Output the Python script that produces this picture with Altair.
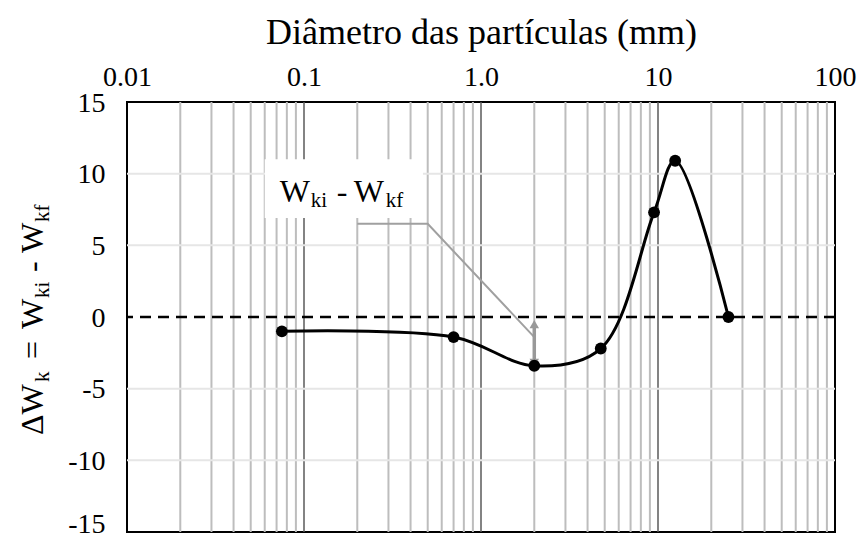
import altair as alt
import pandas as pd

# ---- data ----
diam = [0.075, 0.7, 2.0, 4.75, 9.5, 12.5, 25.0]
dwk = [-1.0, -1.4, -3.4, -2.2, 7.3, 10.9, 0.0]

x_ticks = [0.01, 0.1, 1, 10, 100]
x_tick_labels = ["0.01", "0.1", "1.0", "10", "100"]
y_ticks = [-15, -10, -5, 0, 5, 10, 15]

minor_grid = [0.02, 0.03, 0.04, 0.05, 0.06, 0.07, 0.08, 0.09,
              0.2, 0.3, 0.4, 0.5, 0.6, 0.7, 0.8, 0.9,
              2, 3, 4, 5, 6, 7, 8, 9,
              20, 30, 40, 50, 60, 70, 80, 90]
major_grid = [0.1, 1, 10]
h_grid = [-10, -5, 5, 10]

# annotation geometry (data coordinates)
box_x = [0.06, 0.47]
box_y = [6.9, 11.0]
leader_x = [0.2, 0.5, 2.0]
leader_y = [6.5, 6.5, -1.4]
arrow_x = 2.0
arrow_y = [-0.5, -3.2]

FONT = "Liberation Serif, serif"

df = pd.DataFrame({"d": diam, "w": dwk})

label_expr = "''"
for v, l in zip(reversed(x_ticks), reversed(x_tick_labels)):
    label_expr = f"abs(datum.value - {v}) < {v * 1e-6} ? '{l}' : ({label_expr})"

xscale = alt.Scale(type="log", domain=[0.01, 100], nice=False)
yscale = alt.Scale(domain=[-15, 15], nice=False)

x_axis = alt.Axis(orient="top", values=x_ticks, labelExpr=label_expr, grid=False,
                  ticks=False, tickSize=0, domain=False, labelFont=FONT, labelFontSize=28,
                  labelColor="black", labelPadding=17, labelBaseline="alphabetic",
                  labelFlush=False, labelOverlap=False,
                  title="Diâmetro das partículas (mm)", titleFont=FONT, titleFontSize=36,
                  titleFontWeight="normal", titleColor="black", titlePadding=12)
y_axis = alt.Axis(values=y_ticks, grid=False, ticks=False, tickSize=0, domain=False,
                  labelExpr="datum.value < 0 ? '-' + abs(datum.value) : '' + datum.value",
                  labelFont=FONT, labelFontSize=28, labelColor="black", labelPadding=22,
                  labelOffset={"condition": {"test": f"datum.value == {y_ticks[0]}", "value": -8},
                               "value": 1},
                  title="")


def X(field="d"):
    return alt.X(f"{field}:Q", scale=xscale, axis=x_axis)


def Y(field="w"):
    return alt.Y(f"{field}:Q", scale=yscale, axis=y_axis)


minor = alt.Chart(pd.DataFrame({"g": minor_grid})).mark_rule(
    color="#bdbdbd", strokeWidth=2).encode(x=X("g"))
major = alt.Chart(pd.DataFrame({"g": major_grid})).mark_rule(
    color="#5a5a5a", strokeWidth=1.5).encode(x=X("g"))
hgrid = alt.Chart(pd.DataFrame({"h": h_grid})).mark_rule(
    color="#e6e6e6", strokeWidth=2).encode(y=Y("h"))

box = alt.Chart(pd.DataFrame({"x1": [box_x[0]], "x2": [box_x[1]],
                              "y1": [box_y[0]], "y2": [box_y[1]]})).mark_rect(
    color="white").encode(x=X("x1"), x2="x2:Q", y=Y("y1"), y2="y2:Q")

zero = alt.Chart(pd.DataFrame({"z": [0]})).mark_rule(
    color="black", strokeWidth=2.5, strokeDash=[11, 7]).encode(y=Y("z"))

leader = alt.Chart(pd.DataFrame({"lx": leader_x, "ly": leader_y,
                                 "o": list(range(len(leader_x)))})).mark_line(
    color="#a0a0a0", strokeWidth=2).encode(x=X("lx"), y=Y("ly"), order="o:Q")

arrow = alt.Chart(pd.DataFrame({"ax": [arrow_x], "a1": [arrow_y[0]], "a2": [arrow_y[1]]})).mark_rule(
    color="#999999", strokeWidth=3.5).encode(x=X("ax"), y=Y("a1"), y2="a2:Q")
head_up = alt.Chart(pd.DataFrame({"ax": [arrow_x], "ay": [arrow_y[0]]})).mark_point(
    shape="triangle-up", filled=True, color="#999999", size=90, opacity=1).encode(
    x=X("ax"), y=Y("ay"))
head_dn = alt.Chart(pd.DataFrame({"ax": [arrow_x], "ay": [arrow_y[1]]})).mark_point(
    shape="triangle-down", filled=True, color="#999999", size=90, opacity=1).encode(
    x=X("ax"), y=Y("ay"))

curve = alt.Chart(df).mark_line(color="black", strokeWidth=3,
                                interpolate="catmull-rom").encode(x=X(), y=Y())
points = alt.Chart(df).mark_point(filled=True, color="black", size=140,
                                  opacity=1).encode(x=X(), y=Y())

one = alt.Data(values=[{}])

# in-plot label "W_ki - W_kf"
lab_x, lab_y = 0.073, 8.0
pieces = [("W", 0, 0, 32), ("ki", 31, 5, 21), ("-", 57, 0, 32), ("W", 74, 0, 32), ("kf", 106, 5, 21)]
ann_layers = []
for txt, dx, dy, fs in pieces:
    ann_layers.append(
        alt.Chart(pd.DataFrame({"tx": [lab_x], "ty": [lab_y]})).mark_text(
            text=txt, align="left", baseline="alphabetic", font=FONT, fontSize=fs,
            color="black", dx=dx, dy=dy).encode(x=X("tx"), y=Y("ty")))

# rotated y-axis title "ΔW_k = W_ki - W_kf"
ytitle = [("ΔW", 333, 0, 32), ("k", 280, 6, 21), ("=", 257, 0, 32), ("W", 227, 0, 32),
          ("ki", 196, 6, 21), ("-", 170, 0, 32), ("W", 151, 0, 32), ("kf", 120, 6, 21)]
yt_layers = []
for txt, py, dy, fs in ytitle:
    yt_layers.append(
        alt.Chart(one).mark_text(
            text=txt, align="left", baseline="alphabetic", angle=270, font=FONT,
            fontSize=fs, color="black", dy=dy).encode(x=alt.value(-84), y=alt.value(py)))

chart = alt.layer(minor, major, hgrid, box, zero, leader, arrow, head_up, head_dn,
                  curve, points, *ann_layers, *yt_layers).properties(
    width=708, height=430,
    autosize=alt.AutoSizeParams(type="none"),
    padding={"left": 127, "top": 102, "right": 26, "bottom": 5},
    background="white",
).configure_view(stroke="black", strokeWidth=2)

chart.save("out.html", embed_options={"renderer": "svg", "actions": False})
